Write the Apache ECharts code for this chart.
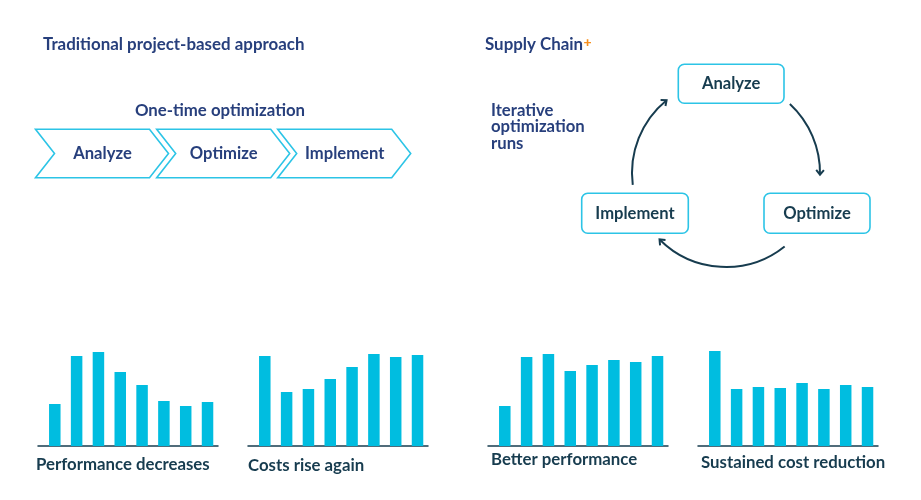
<!DOCTYPE html>
<html><head><meta charset="utf-8">
<script src="https://cdn.jsdelivr.net/npm/echarts@6/dist/echarts.min.js"></script>
<style>html,body{margin:0;padding:0;background:#fff}#c{width:921px;height:500px}</style>
</head><body><div id="c"></div>
<script>
// ---- data ----
const barIndex = [0,1,2,3,4,5,6,7];
const perfDecreases = [42, 90, 94, 74, 61, 45, 40, 44];
const costsRise = [90, 54, 57, 67, 79, 92, 89, 91];
const betterPerf = [40, 89, 92, 75, 81, 86, 84, 90];
const sustainedCost = [95, 57, 59, 58, 63, 57, 61, 59];
const chartTitles = ['Performance decreases','Costs rise again','Better performance','Sustained cost reduction'];
const stepsLinear = ['Analyze','Optimize','Implement'];
const headerLeft = 'Traditional project-based approach';
const headerRight = 'Supply Chain';
const subLeft = 'One-time optimization';
const subRight = 'Iterative\noptimization\nruns';

(function(){
const CYAN = '#00bde0', BORDER = '#2cc4e6', NAVY = '#273f7c', DARK = '#173c4f', ORANGE = '#f7901e';
const FONT = 'Lato';

const seriesData = [perfDecreases, costsRise, betterPerf, sustainedCost];
const gridLefts = [38, 248, 488, 698];
const labelPos = [[36,465],[248,466],[491,460],[701,463]];

const grids = [], xAxes = [], yAxes = [], series = [];
seriesData.forEach((vals, k) => {
  grids.push({left: gridLefts[k], top: 346, width: 180, height: 100});
  xAxes.push({type:'value', gridIndex:k, min:-0.77, max:7.48, axisLine:{show:true, onZero:false, lineStyle:{color:DARK, width:1.5}},
    axisTick:{show:false}, axisLabel:{show:false}, splitLine:{show:false}});
  yAxes.push({type:'value', gridIndex:k, min:0, max:100, show:false});
  series.push({type:'bar', xAxisIndex:k, yAxisIndex:k, barWidth:11.5, itemStyle:{color:CYAN}, silent:true,
    data: vals.map((v,i)=>[barIndex[i], v])});
});

const graphics = [];
function txt(x,y,t,opt){ graphics.push({type:'text', x, y, silent:true, style:Object.assign({text:t, font:'bold 16.8px '+FONT, fill:NAVY, align:'left', verticalAlign:'middle'}, opt||{})}); }

txt(43, 45, headerLeft, {font:'bold 16.9px '+FONT});
txt(485, 45, headerRight, {font:'bold 16.9px '+FONT});
txt(583.5, 42, '+', {fill:ORANGE, font:'900 14px '+FONT});
txt(220, 111, subLeft, {align:'center'});
txt(491, 127, subRight, {lineHeight:16.7, font:'bold 16.7px '+FONT});

// chevrons
const chevX = [35.5, 156.7, 277.7], chevW = 114, notch = 19, cTop = 129.3, cBot = 177.7, cMid = 153.5;
chevX.forEach((x0,i)=>{
  graphics.push({type:'polygon', silent:true, shape:{points:[[x0,cTop],[x0+chevW,cTop],[x0+chevW+notch,cMid],[x0+chevW,cBot],[x0,cBot],[x0+notch,cMid]]},
    style:{fill:'#fff', stroke:BORDER, lineWidth:1.6}});
  txt(x0+notch+ (chevW)/2 - 9, cMid, stepsLinear[i], {align:'center', font:'bold 16.6px '+FONT});
});

// cycle boxes
const boxes = [[678.3,64.3,105.7,39,'Analyze'],[764,193.3,106,40,'Optimize'],[581.7,193.3,106.6,40,'Implement']];
boxes.forEach(b=>{
  graphics.push({type:'rect', silent:true, shape:{x:b[0],y:b[1],width:b[2],height:b[3],r:6}, style:{fill:'#fff', stroke:BORDER, lineWidth:1.6}});
  txt(b[0]+b[2]/2, b[1]+b[3]/2, b[4], {align:'center', fill:DARK, font:'bold 16.6px '+FONT});
});

// cycle arrows
const cx = 726, cy = 173, r = 94;
const arcs = [[-47.2, 1], [51.4, 135], [172.7, 230.8]];
arcs.forEach(a=>{
  const s = a[0]*Math.PI/180, e = a[1]*Math.PI/180;
  graphics.push({type:'arc', silent:true, shape:{cx, cy, r, startAngle:s, endAngle:e, clockwise:true}, style:{fill:null, stroke:DARK, lineWidth:2}});
  const tx = cx + r*Math.cos(e), ty = cy + r*Math.sin(e);
  const dx = -Math.sin(e), dy = Math.cos(e);
  const L = 6, ang = 40*Math.PI/180;
  const p1 = [tx - L*(dx*Math.cos(ang) - dy*Math.sin(ang)), ty - L*(dx*Math.sin(ang) + dy*Math.cos(ang))];
  const p2 = [tx - L*(dx*Math.cos(-ang) - dy*Math.sin(-ang)), ty - L*(dx*Math.sin(-ang) + dy*Math.cos(-ang))];
  graphics.push({type:'polyline', silent:true, shape:{points:[p1,[tx,ty],p2]}, style:{fill:null, stroke:DARK, lineWidth:2}});
});

// bar chart titles
chartTitles.forEach((t,k)=>txt(labelPos[k][0], labelPos[k][1], t, {fill:DARK}));

const chart = echarts.init(document.getElementById('c'), null, {renderer:'canvas'});
chart.setOption({
  animation:false,
  grid: grids, xAxis: xAxes, yAxis: yAxes, series: series,
  graphic: graphics
});
})();
</script></body></html>
